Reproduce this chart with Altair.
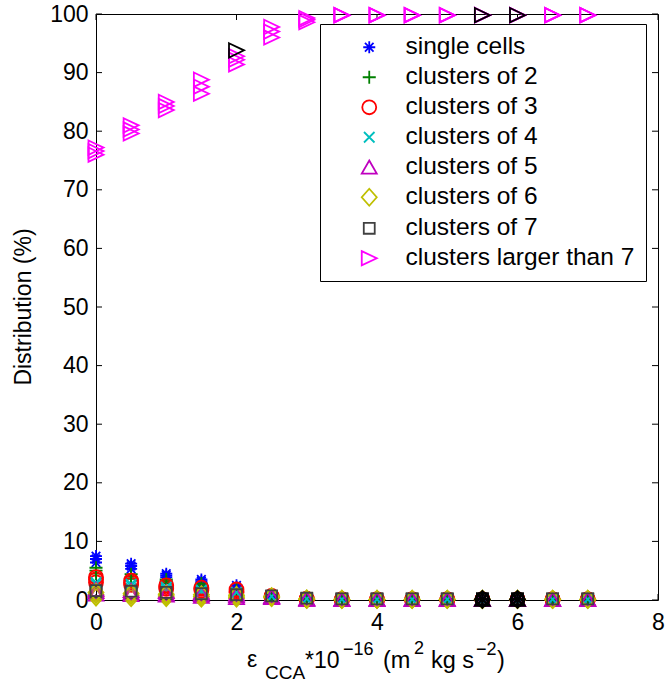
import altair as alt
import pandas as pd

# ---------------- data ----------------
xs = [0, 0.5, 1, 1.5, 2, 2.5, 3, 3.5, 4, 4.5, 5, 5.5, 6, 6.5, 7]

series_names = ["single cells", "clusters of 2", "clusters of 3", "clusters of 4",
                "clusters of 5", "clusters of 6", "clusters of 7", "clusters larger than 7"]
series_colors = ["#0000FF", "#008000", "#FF0000", "#00BFBF",
                 "#BF00BF", "#BFBF00", "#404040", "#FF00FF"]
series_shapes = [
    "M-0.8,0L0.8,0M0,-0.8L0,0.8M-0.57,-0.57L0.57,0.57M-0.57,0.57L0.57,-0.57",  # asterisk
    "M-0.87,0L0.87,0M0,-0.87L0,0.87",                                          # plus
    "M0.93,0A0.93,0.93 0 1,1 -0.93,0A0.93,0.93 0 1,1 0.93,0Z",                  # circle
    "M-0.7,-0.7L0.7,0.7M-0.7,0.7L0.7,-0.7",                                    # x
    "M0,-0.9L1,0.85L-1,0.85Z",                                                 # triangle up
    "M0,-1.13L1,0L0,1.13L-1,0Z",                                               # diamond
    "M-0.73,-0.73L0.73,-0.73L0.73,0.73L-0.73,0.73Z",                           # square
    "M-1,-0.95L1,0L-1,0.95Z",                                                  # triangle right
]

# three repeated runs per series (values in %)
single_cells = [
    [6.4, 5.3, 3.9, 2.9, 1.9, 0.7, 0.2, 0.1, 0.1, 0.1, 0.1, 0.1, 0.1, 0.1, 0.1],
    [7.0, 5.8, 4.2, 3.2, 2.2, 0.8, 0.2, 0.1, 0.1, 0.1, 0.1, 0.1, 0.1, 0.1, 0.1],
    [7.5, 6.2, 4.5, 3.5, 2.5, 0.9, 0.3, 0.2, 0.1, 0.1, 0.1, 0.1, 0.1, 0.1, 0.1],
]
clusters_2 = [
    [4.5, 3.6, 2.9, 2.3, 1.5, 0.6, 0.2, 0.1, 0.1, 0.1, 0.1, 0.1, 0.1, 0.1, 0.1],
    [5.0, 4.0, 3.2, 2.5, 1.7, 0.7, 0.2, 0.1, 0.1, 0.1, 0.1, 0.1, 0.1, 0.1, 0.1],
    [5.5, 4.4, 3.5, 2.8, 1.9, 0.8, 0.2, 0.1, 0.1, 0.1, 0.1, 0.1, 0.1, 0.1, 0.1],
]
clusters_3 = [
    [3.0, 2.6, 1.9, 1.6, 1.3, 0.5, 0.1, 0.1, 0.1, 0.1, 0.1, 0.1, 0.1, 0.1, 0.1],
    [3.5, 3.0, 2.2, 1.9, 1.5, 0.6, 0.2, 0.1, 0.1, 0.1, 0.1, 0.1, 0.1, 0.1, 0.1],
    [3.9, 3.3, 2.5, 2.1, 1.8, 0.7, 0.2, 0.1, 0.1, 0.1, 0.1, 0.1, 0.1, 0.1, 0.1],
]
clusters_4 = [
    [2.4, 2.0, 1.6, 1.2, 0.9, 0.5, 0.1, 0.1, 0.1, 0.1, 0.1, 0.1, 0.1, 0.1, 0.1],
    [2.7, 2.4, 1.9, 1.5, 1.1, 0.6, 0.2, 0.1, 0.1, 0.1, 0.1, 0.1, 0.1, 0.1, 0.1],
    [3.0, 2.7, 2.2, 1.7, 1.3, 0.6, 0.2, 0.1, 0.1, 0.1, 0.1, 0.1, 0.1, 0.1, 0.1],
]
clusters_5 = [
    [1.0, 0.9, 0.8, 0.6, 0.4, 0.4, 0.1, 0.1, 0.1, 0.1, 0.1, 0.1, 0.1, 0.1, 0.1],
    [1.4, 1.2, 1.0, 0.9, 0.7, 0.5, 0.1, 0.1, 0.1, 0.1, 0.1, 0.1, 0.1, 0.1, 0.1],
    [1.8, 1.6, 1.4, 1.2, 1.0, 0.6, 0.2, 0.1, 0.1, 0.1, 0.1, 0.1, 0.1, 0.1, 0.1],
]
clusters_6 = [
    [0.5, 0.4, 0.4, 0.3, 0.3, 0.4, 0.1, 0.1, 0.1, 0.1, 0.1, 0.1, 0.1, 0.1, 0.1],
    [0.9, 0.8, 0.7, 0.6, 0.5, 0.5, 0.1, 0.1, 0.1, 0.1, 0.1, 0.1, 0.1, 0.1, 0.1],
    [1.3, 1.1, 1.0, 0.9, 0.8, 0.6, 0.2, 0.1, 0.1, 0.1, 0.1, 0.1, 0.1, 0.1, 0.1],
]
clusters_7 = [
    [1.2, 1.1, 0.9, 0.8, 0.6, 0.5, 0.2, 0.1, 0.1, 0.1, 0.1, 0.1, 0.1, 0.1, 0.1],
    [1.4, 1.3, 1.1, 1.0, 0.8, 0.6, 0.2, 0.2, 0.2, 0.2, 0.2, 0.2, 0.2, 0.2, 0.2],
    [1.6, 1.5, 1.3, 1.1, 0.9, 0.7, 0.3, 0.2, 0.2, 0.2, 0.2, 0.2, 0.2, 0.2, 0.2],
]
clusters_larger_7 = [
    [76.0, 79.6, 83.6, 86.4, 91.4, 96.0, 98.6, 99.8, 99.8, 99.8, 99.8, 99.8, 99.8, 99.8, 99.8],
    [76.6, 80.3, 84.3, 87.6, 92.2, 97.0, 99.0, 99.8, 99.8, 99.8, 99.8, 99.8, 99.8, 99.8, 99.8],
    [77.2, 81.0, 85.0, 88.8, 92.8, 97.8, 99.3, 99.8, 99.8, 99.8, 99.8, 99.8, 99.8, 99.8, 99.8],
]
all_series = [single_cells, clusters_2, clusters_3, clusters_4,
              clusters_5, clusters_6, clusters_7, clusters_larger_7]

# extra run drawn in black
black_x = [2, 5.5, 6]
black_values = {
    "clusters larger than 7": [93.8, 99.8, 99.8],
    "single cells": [None, 0.1, 0.1],
    "clusters of 2": [None, 0.1, 0.1],
    "clusters of 3": [None, 0.1, 0.1],
    "clusters of 4": [None, 0.1, 0.1],
    "clusters of 5": [None, 0.1, 0.1],
    "clusters of 6": [None, 0.1, 0.1],
    "clusters of 7": [None, 0.2, 0.2],
}

x_ticks = [0, 2, 4, 6, 8]
y_ticks = [0, 10, 20, 30, 40, 50, 60, 70, 80, 90, 100]

rows = []
for run in range(3):
    for name, runs in zip(series_names, all_series):
        for x, v in zip(xs, runs[run]):
            rows.append({"x": x, "v": v, "series": name})
df = pd.DataFrame(rows)

brows = []
for name in series_names:
    for x, v in zip(black_x, black_values[name]):
        if v is not None:
            brows.append({"x": x, "v": v, "series": name})
dfb = pd.DataFrame(brows)

# ---------------- chart ----------------
W, H = 562, 586
FONT = "Liberation Sans"

xscale = alt.Scale(domain=[0, 8], nice=False, zero=False)
yscale = alt.Scale(domain=[0, 100], nice=False, zero=False)

xenc = alt.X("x:Q", scale=xscale,
             axis=alt.Axis(values=x_ticks, format="d", title=None, labelPadding=11,
                           labelFlush=False, grid=False, domain=False, ticks=False,
                           labelFont=FONT, labelFontSize=23, labelColor="black"))
yenc = alt.Y("v:Q", scale=yscale,
             axis=alt.Axis(values=y_ticks, format="d", title=None, labelPadding=8,
                           labelFlush=False, grid=False, domain=False, ticks=False,
                           labelFont=FONT, labelFontSize=23, labelColor="black"))

legend = alt.Legend(
    title=None, orient="none", legendX=224, legendY=10,
    strokeColor="black", fillColor="white", padding=11,
    labelFont=FONT, labelFontSize=24.5, labelColor="black", labelLimit=500,
    symbolSize=225, symbolStrokeWidth=1.8, rowPadding=5,
    symbolOffset=26, labelOffset=24,
)
shape_enc = alt.Shape("series:N", scale=alt.Scale(domain=series_names, range=series_shapes),
                      legend=legend)
color_enc = alt.Color("series:N", scale=alt.Scale(domain=series_names, range=series_colors),
                      legend=legend)

points = alt.Chart(df).mark_point(filled=False, opacity=1, strokeWidth=1.8, size=225).encode(
    x=xenc, y=yenc, shape=shape_enc, color=color_enc)

black_pts = alt.Chart(dfb).mark_point(filled=False, opacity=1, strokeWidth=1.8, size=225).encode(
    x=alt.X("x:Q", scale=xscale), y=alt.Y("v:Q", scale=yscale),
    shape=shape_enc, color=alt.value("black"))

# inward tick marks (MATLAB style box)
tx = pd.DataFrame({"t": x_ticks})
ty = pd.DataFrame({"t": y_ticks})
tick_len = 6
bottom_ticks = alt.Chart(tx).mark_rule(color="black", strokeWidth=1).encode(
    x=alt.X("t:Q", scale=xscale), y=alt.value(H), y2=alt.value(H - tick_len))
top_ticks = alt.Chart(tx).mark_rule(color="black", strokeWidth=1).encode(
    x=alt.X("t:Q", scale=xscale), y=alt.value(0), y2=alt.value(tick_len))
left_ticks = alt.Chart(ty).mark_rule(color="black", strokeWidth=1).encode(
    y=alt.Y("t:Q", scale=yscale), x=alt.value(0), x2=alt.value(tick_len))
right_ticks = alt.Chart(ty).mark_rule(color="black", strokeWidth=1).encode(
    y=alt.Y("t:Q", scale=yscale), x=alt.value(W), x2=alt.value(W - tick_len))

one = pd.DataFrame({"a": [0]})


def txt(s, x, y, size, angle=0, align="left", baseline="alphabetic"):
    return alt.Chart(one).mark_text(
        text=s, font=FONT, fontSize=size, color="black", align=align,
        baseline=baseline, angle=angle,
    ).encode(x=alt.value(x), y=alt.value(y))


y_title = txt("Distribution (%)", -72, 293, 23, angle=270, align="center", baseline="middle")
x_title = [
    txt("ε", 151, 653, 23),
    txt("CCA", 169, 665, 19),
    txt("*10", 209, 654, 23),
    txt("−16", 247, 641, 18),
    txt("(m", 287, 654, 23.5),
    txt("2", 318, 640, 18),
    txt("kg s", 335, 654, 23.5),
    txt("−2", 380, 641, 18),
    txt(")", 401, 654, 23.5),
]

chart = alt.layer(
    bottom_ticks, top_ticks, left_ticks, right_ticks,
    points, black_pts, y_title, *x_title,
).properties(
    width=W, height=H,
    background="white",
    padding={"left": 96, "top": 14, "right": 8, "bottom": 86},
    autosize=alt.AutoSizeParams(type="none"),
).configure_view(
    stroke="black", strokeWidth=1,
).configure_axis(
    grid=False, domain=False, ticks=False,
    labelFont=FONT, labelFontSize=23, labelColor="black",
)

chart.save("out.html", embed_options={"renderer": "svg", "actions": False})
